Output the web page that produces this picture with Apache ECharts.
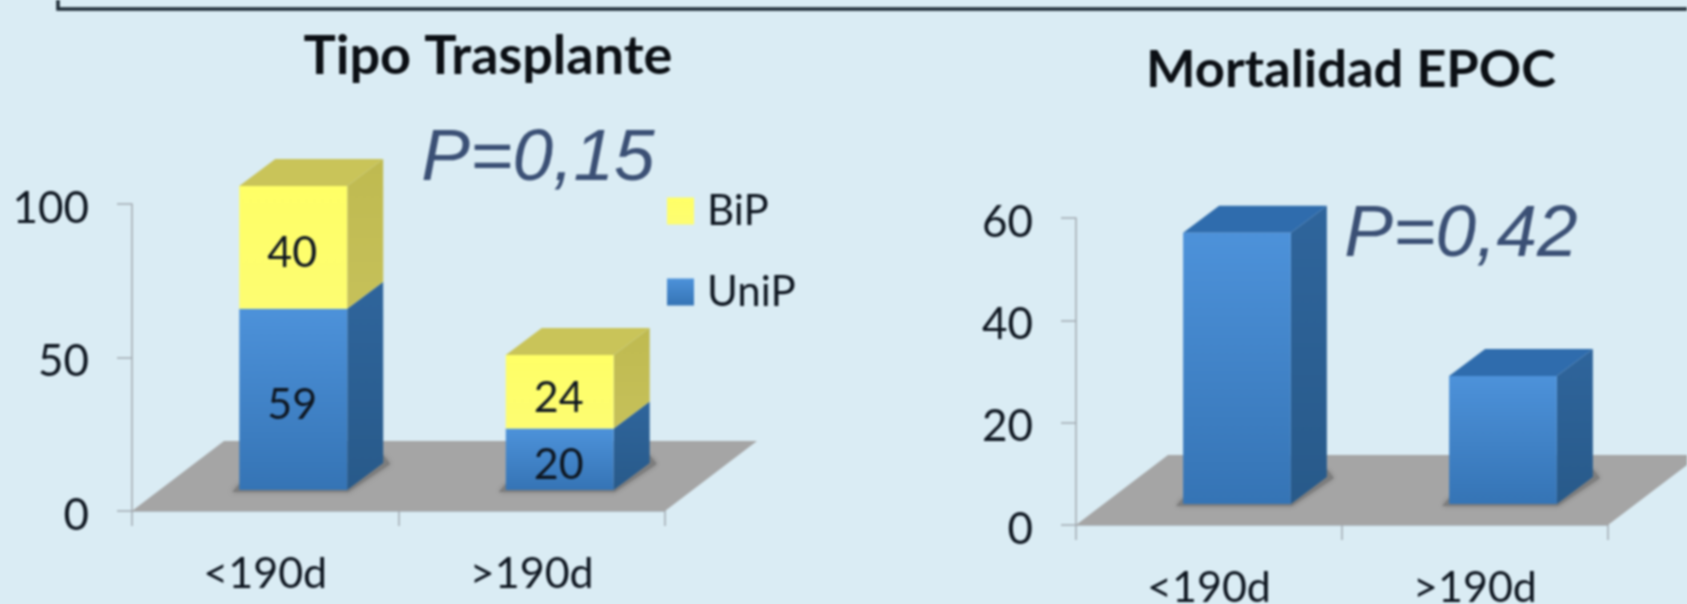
<!DOCTYPE html>
<html><head><meta charset="utf-8">
<style>html,body{margin:0;padding:0;background:#daecf4}#c{width:1687px;height:604px;filter:blur(0.8px)}</style>
<script src="https://cdn.jsdelivr.net/npm/echarts@6/dist/echarts.min.js"></script>
</head><body><div id="c"></div>
<script>
const categories = ['<190d', '>190d'];
const uniP = [59, 20];
const biP = [40, 24];
const mortalidad = [53, 25];
const titleLeft = 'Tipo Trasplante';
const titleRight = 'Mortalidad EPOC';
const pLeft = 'P=0,15';
const pRight = 'P=0,42';

const FONT = 'Lato';
const BLUE = {front:['#4d92da','#3574b5'], side:['#2f659c','#285a8a'], top:'#2f6cad'};
const YELLOW = {front:['#ffff66','#fdfd72'], side:['#bfba50','#c6c15a'], top:'#c9c459'};
const grad = (a,b)=>new echarts.graphic.LinearGradient(0,0,0,1,[{offset:0,color:a},{offset:1,color:b}]);

function floorSeries(xi){
  return {type:'custom', xAxisIndex:xi, yAxisIndex:xi, silent:true, z:1, legendHoverLink:false,
    data:[[0,0]], clip:false,
    renderItem(p, api){
      const r = p.coordSys, dx = 92, dy = 70, b = r.y + r.height, x0 = r.x, x1 = r.x + r.width;
      return {type:'polygon', shape:{points:[[x0,b],[x1,b],[x1+dx,b-dy],[x0+dx,b-dy]]}, style:{fill:'#a5a5a5'}};
    }};
}
function barSeries(name, xi, vals, starts, pal, withTop, withShadow){
  return {type:'custom', name, xAxisIndex:xi, yAxisIndex:xi, z:2, clip:false,
    itemStyle:{color:grad(pal.front[0],pal.front[1])},
    encode:{x:0,y:[1,2]},
    data: vals.map((v,i)=>[i, starts[i], starts[i]+v, v]),
    renderItem(p, api){
      const idx = api.value(0), s = api.value(1), e = api.value(2);
      const c0 = api.coord([idx,s]), c1 = api.coord([idx,e]);
      const w = api.size([1,0])[0]*0.405, off = 28, lift = 21, dx = 36, dy = 27;
      const x0 = c0[0]+off-w/2, x1 = x0+w, y0 = c0[1]-lift, y1 = c1[1]-lift;
      const ch = [];
      if(withShadow) ch.push({type:'polygon', shape:{points:[[x0-7,y0+2],[x1+1,y0+2],[x1+dx+7,y0-dy+1],[x1+dx,y0-dy-8],[x1,y0-6],[x0,y0-6]]}, style:{fill:'#7d7d7d', shadowBlur:5, shadowColor:'#7d7d7d'}});
      ch.push({type:'polygon', shape:{points:[[x1,y0],[x1+dx,y0-dy],[x1+dx,y1-dy],[x1,y1]]}, style:{fill:grad(pal.side[0],pal.side[1])}});
      if(withTop) ch.push({type:'polygon', shape:{points:[[x0,y1],[x1,y1],[x1+dx,y1-dy],[x0+dx,y1-dy]]}, style:{fill:pal.top}});
      ch.push({type:'rect', shape:{x:x0,y:y1,width:w,height:y0-y1}, style:{fill:grad(pal.front[0],pal.front[1])}});
      return {type:'group', children:ch};
    }};
}
function labelSeries(xi, vals, starts){
  return {type:'custom', xAxisIndex:xi, yAxisIndex:xi, z:3, silent:true, clip:false,
    data: vals.map((v,i)=>[i, starts[i], starts[i]+v, v]),
    renderItem(p, api){
      const idx=api.value(0), a=api.coord([idx,api.value(1)]), b=api.coord([idx,api.value(2)]);
      return {type:'text', style:{text:String(api.value(3)), x:a[0]+27, y:(a[1]+b[1])/2-15, align:'center', verticalAlign:'middle', font:'400 43px '+FONT, fill:'#0e1620'}};
    }};
}
const axisLine = {show:true, lineStyle:{color:'#a3abb1', width:1.5}};
const axisTick = {show:true, length:15, lineStyle:{color:'#a3abb1', width:1.5}};
function xAx(gi, m){return {type:'category', gridIndex:gi, data:categories, axisLine, axisTick:{...axisTick,alignWithLabel:false}, axisLabel:{fontFamily:FONT, fontSize:43, color:'#0e1620', margin:m, interval:0}};}
function yAx(gi, max, iv){return {type:'value', gridIndex:gi, min:0, max, interval:iv, splitLine:{show:false}, axisLine, axisTick, axisLabel:{fontFamily:FONT, fontSize:44, color:'#0e1620', margin:43, verticalAlign:'top', lineHeight:9}};}
const zeros = [0,0];
const chart = echarts.init(document.getElementById('c'), null, {renderer:'canvas', width:1687, height:604});
const ttl = (text,left,top,size)=>({text,left,top,padding:0,textAlign:'center',textStyle:{fontFamily:FONT,fontWeight:'bold',fontSize:size,color:'#0b0f14'}});
const pt = (text,left,top)=>({text,left,top,padding:0,textAlign:'center',textStyle:{fontFamily:'Liberation Sans',fontStyle:'italic',fontWeight:400,fontSize:73,color:'#3b5075'}});
chart.setOption({
  backgroundColor:'#daecf4', animation:false,
  title:[ttl(titleLeft,488,30,54), ttl(titleRight,1351,44,52.5), pt(pLeft,538,123), pt(pRight,1461,199)],
  legend:{left:667, top:190, padding:0, orient:'vertical', itemWidth:27, itemHeight:27, itemGap:39, icon:'rect',
    data:['BiP','UniP'], textStyle:{fontFamily:FONT, fontSize:42, color:'#0e1620', padding:[0,0,0,8]}},
  grid:[{left:132, top:204, width:533, height:307, outerBoundsMode:'none'},{left:1076, top:218, width:532, height:307, outerBoundsMode:'none'}],
  xAxis:[xAx(0,42),xAx(1,42)],
  yAxis:[yAx(0,100,50),yAx(1,60,20)],
  series:[
    floorSeries(0), floorSeries(1),
    barSeries('UniP',0,uniP,zeros,BLUE,false,true),
    barSeries('BiP',0,biP,uniP,YELLOW,true,false),
    labelSeries(0,uniP,zeros), labelSeries(0,biP,uniP),
    barSeries('Mortalidad',1,mortalidad,zeros,BLUE,true,true)
  ],
  graphic:[{type:'polyline', silent:true, shape:{points:[[58,0],[58,9],[1687,9]]}, style:{stroke:'#1d2a35', lineWidth:3.5, fill:null}}]
});
</script></body></html>
